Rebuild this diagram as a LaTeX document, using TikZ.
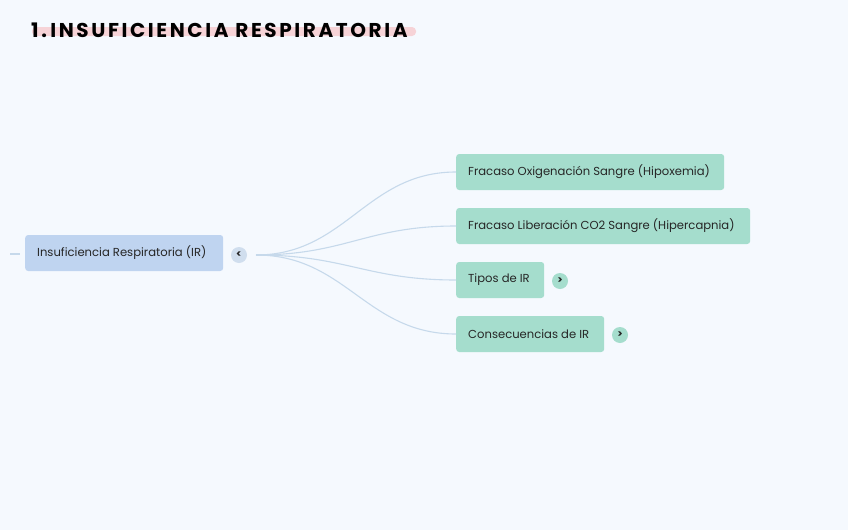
\documentclass[tikz,border=0pt]{standalone}
\usepackage{fontspec}
\setmainfont{Poppins}
\newfontfamily\titlefont{Poppins}[LetterSpace=13]
\definecolor{bgc}{HTML}{F5F9FE}
\definecolor{rootc}{HTML}{BFD4F0}
\definecolor{childc}{HTML}{A5DDCD}
\definecolor{linkc}{HTML}{C6D9EB}
\definecolor{btnc}{HTML}{D0DEEE}
\definecolor{btnk}{HTML}{A5DDCD}
\definecolor{txtc}{HTML}{262626}
\definecolor{pinkc}{HTML}{F6D3D7}
\newcommand{\boxtext}[2]{\makebox[#1][l]{#2}}
\tikzset{
  nodebase/.style={rounded corners=3pt, minimum height=36pt, anchor=west, inner xsep=12pt, text=txtc, font=\fontsize{11.6}{14}\selectfont},
  rootbox/.style={nodebase, fill=rootc},
  childbox/.style={nodebase, fill=childc},
  btn/.style={circle, inner sep=0pt, minimum size=16pt, font=\fontsize{10}{10}\selectfont\bfseries, text=txtc},
  link/.style={draw=linkc, line width=1.1pt},
}
\begin{document}
\begin{tikzpicture}[x=1pt,y=-1pt]
\fill[bgc] (0,0) rectangle (848,530);
\useasboundingbox (0,0) rectangle (848,530);
% title
\fill[pinkc, rounded corners=4pt] (32,27) rectangle (416,36);
\node[anchor=west, inner sep=0pt, font=\titlefont\fontsize{20}{20}\selectfont\bfseries] (title) at (31,30) {1.\,INSUFICIENCIA RESPIRATORIA};
% root
\draw[link] (10,254) -- (20,254);
\node[rootbox] (root) at (25,253) {\boxtext{174pt}{Insuficiencia Respiratoria (IR)}};
\node[btn, fill=btnc] (rb) at (239,255) {<};
\coordinate (rs) at (256,255);
% children
\node[childbox] (c1) at (456,172) {\boxtext{244pt}{Fracaso Oxigenación Sangre (Hipoxemia)}};
\node[childbox] (c2) at (456,226) {\boxtext{270pt}{Fracaso Liberación CO2 Sangre (Hipercapnia)}};
\node[childbox] (c3) at (456,280) {\boxtext{64pt}{Tipos de IR}};
\node[childbox] (c4) at (456,334) {\boxtext{124pt}{Consecuencias de IR}};
\node[btn, fill=btnk] (b3) at (560,281) {>};
\node[btn, fill=btnk] (b4) at (620,335) {>};
% links
\foreach \c in {c1,c2,c3,c4}{
  \draw[link] (rs) .. controls +(90,0) and +(-90,0) .. (\c.west);
}
\end{tikzpicture}
\end{document}
